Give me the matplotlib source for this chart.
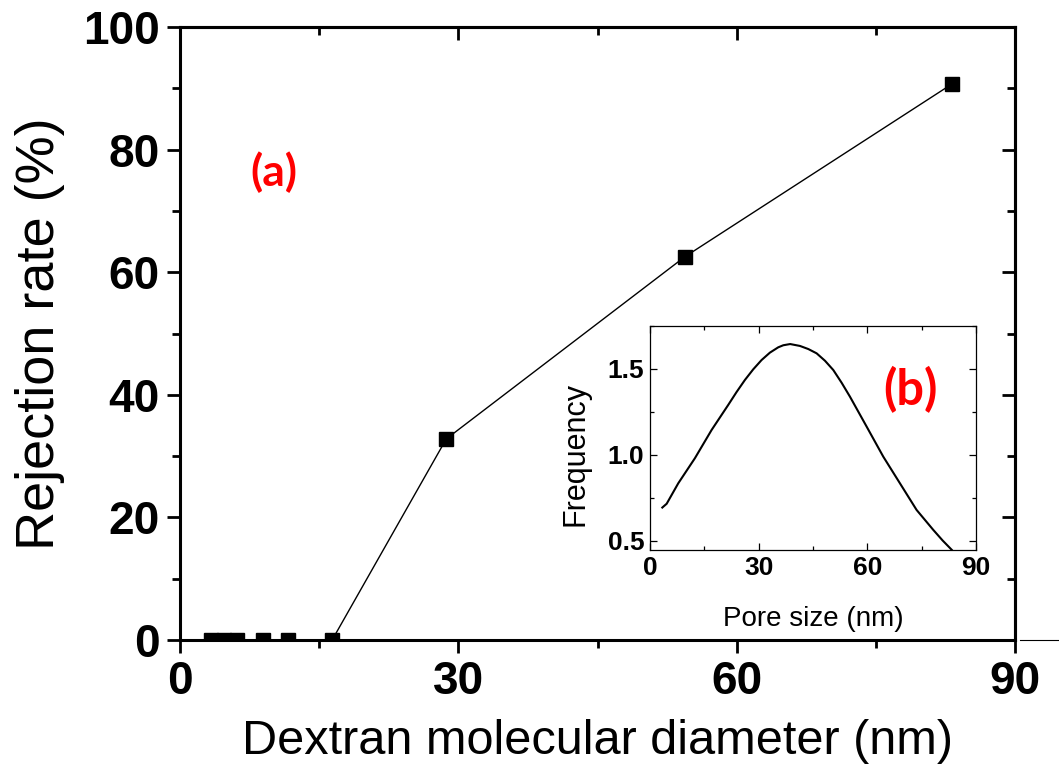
import matplotlib
matplotlib.use("Agg")
import matplotlib.pyplot as plt
from matplotlib.ticker import MultipleLocator
from matplotlib.lines import Line2D

# ---- data ----
diam = [3.3, 4.7, 6.1, 8.9, 11.6, 16.4, 28.7, 54.4, 83.2]
rejection = [0, 0, 0, 0, 0, 0, 32.8, 62.5, 90.7]

pore = [3.4, 4.6, 7.8, 12.4, 17.0, 21.6, 23.9, 26.2, 28.5, 30.8, 33.1, 35.4,
        36.8, 38.7, 41.4, 43.7, 46.0, 48.3, 50.6, 52.9, 55.2, 59.8, 64.4,
        69.0, 73.6, 75.9, 78.2, 80.8, 83.3]
freq = [0.694, 0.716, 0.835, 0.981, 1.145, 1.291, 1.366, 1.436, 1.498, 1.552,
        1.595, 1.626, 1.638, 1.645, 1.634, 1.616, 1.591, 1.548, 1.494, 1.420,
        1.339, 1.165, 0.990, 0.835, 0.680, 0.622, 0.564, 0.502, 0.448]

main_xticks = [0, 30, 60, 90]
main_yticks = [0, 20, 40, 60, 80, 100]
inset_xticks = [0, 30, 60, 90]
inset_yticks = [0.5, 1.0, 1.5]

plt.rcParams['font.family'] = ['Liberation Sans', 'DejaVu Sans']

W, H = 1059, 776
fig = plt.figure(figsize=(W / 100, H / 100), dpi=100)

def fx(px):
    return px / W

def fy(py):
    return 1 - py / H

# ---- main axes ----
ax = fig.add_axes([fx(180), fy(640), fx(1015) - fx(180), fy(27) - fy(640)])
ax.plot(diam, rejection, color='black', lw=1.0, marker='s', ms=9.5,
        mfc='black', mec='black')
ax.set_xlim(0, 90)
ax.set_ylim(0, 100)
ax.set_xticks(main_xticks)
ax.set_yticks(main_yticks)
ax.xaxis.set_minor_locator(MultipleLocator(15))
ax.yaxis.set_minor_locator(MultipleLocator(10))
for s in ax.spines.values():
    s.set_linewidth(2.2)
ax.tick_params(which='major', direction='out', length=9.5, width=2.0,
               labelsize=33, pad=5)
ax.tick_params(which='minor', direction='out', length=5.5, width=2.0)
for lab in ax.get_xticklabels() + ax.get_yticklabels():
    lab.set_fontweight('bold')
ax.set_xlabel('Dextran molecular diameter (nm)', fontsize=35, labelpad=11)
ax.set_ylabel('Rejection rate (%)', fontsize=39, labelpad=13)

# mirrored inward ticks on top/right
axt = ax.secondary_xaxis('top')
axt.set_xticks(main_xticks)
axt.xaxis.set_minor_locator(MultipleLocator(15))
axt.tick_params(which='major', direction='in', length=9.5, width=2.0, labeltop=False)
axt.tick_params(which='minor', direction='in', length=5.5, width=2.0)
axt.spines['top'].set_linewidth(2.2)
axr = ax.secondary_yaxis('right')
axr.set_yticks(main_yticks)
axr.yaxis.set_minor_locator(MultipleLocator(10))
axr.tick_params(which='major', direction='in', length=9.5, width=2.0, labelright=False)
axr.tick_params(which='minor', direction='in', length=5.5, width=2.0)
axr.spines['right'].set_linewidth(2.2)

ax.text(10.1, 76.3, '(a)', color='red', fontsize=32, fontweight='bold',
        family=['Lato', 'DejaVu Sans'], ha='center', va='center')

# stray thin line right of the axis
fig.add_artist(Line2D([fx(1020), fx(1059)], [fy(640), fy(640)],
                      color='black', lw=0.8))

# ---- inset ----
ins = fig.add_axes([fx(650), fy(550), fx(976) - fx(650), fy(326) - fy(550)])
ins.plot(pore, freq, color='black', lw=1.5)
ins.set_xlim(0, 90)
ins.set_ylim(0.447, 1.75)
ins.set_xticks(inset_xticks)
ins.set_yticks(inset_yticks)
ins.set_yticklabels(['0.5', '1.0', '1.5'])
ins.xaxis.set_minor_locator(MultipleLocator(15))
ins.yaxis.set_minor_locator(MultipleLocator(0.25))
for s in ins.spines.values():
    s.set_linewidth(0.9)
ins.tick_params(which='both', direction='in', top=True, right=True, width=0.9)
ins.tick_params(which='major', length=5, labelsize=19, pad=4)
ins.tick_params(which='minor', length=3)
for lab in ins.get_xticklabels() + ins.get_yticklabels():
    lab.set_fontweight('bold')
ins.set_xlabel('Pore size (nm)', fontsize=20, labelpad=19)
ins.set_ylabel('Frequency', fontsize=22)
ins.yaxis.set_label_coords(-0.183, 0.43)
ins.text(71.8, 1.378, '(b)', color='red', fontsize=35, fontweight='bold',
         family=['Lato', 'DejaVu Sans'], ha='center', va='center')

fig.savefig('out.png', dpi=100)
